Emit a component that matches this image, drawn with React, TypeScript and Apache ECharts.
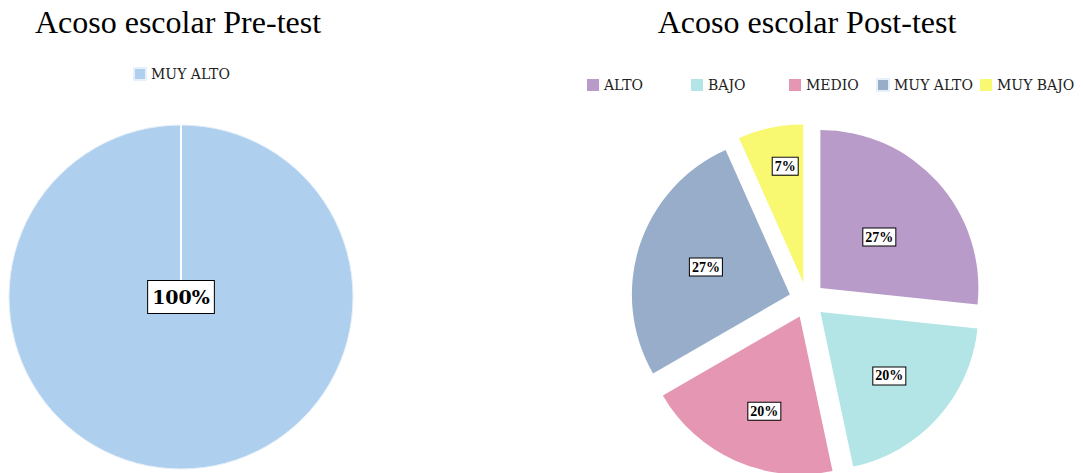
import React, { useEffect, useRef } from "react";
import * as echarts from "echarts";

const preCategories = ["MUY ALTO"];
const preValues = [15];
const postCategories = ["ALTO", "BAJO", "MEDIO", "MUY ALTO", "MUY BAJO"];
const postValues = [4, 3, 3, 4, 1];
const preColors = ["#aecfee"];
const postColors = ["#b89bc9", "#b3e5e6", "#e496b2", "#97adc9", "#f9f871"];
const titles = ["Acoso escolar Pre-test", "Acoso escolar Post-test"];

const W = 1083;
const H = 473;
const PRE_C = [181, 297];
const PRE_R = 172;
const POST_C = [807, 300];
const POST_R = 158;
const postLegendLeft = [587, 691, 789, 876, 980];
// small nudges of the inner labels, to match the reference placement
const postLabelNudge = [
  [-2, 4],
  [8, 9],
  [-2, 20],
  [-6, -2],
  [-1, -36],
];

export default function App() {
  const ref = useRef<HTMLDivElement>(null);
  useEffect(() => {
    document.body.style.margin = "0";
    const chart = echarts.init(ref.current!, undefined, { renderer: "svg" });
    const legendText = { fontFamily: "DejaVu Serif", fontSize: 14, color: "#222" };
    const labelStyle = {
      color: "#000",
      fontFamily: "Liberation Serif",
      fontWeight: "bold" as const,
      fontSize: 14,
      backgroundColor: "#fff",
      borderColor: "#000",
      borderWidth: 1,
      padding: [2, 2, 1, 2],
    };
    const titleStyle = { fontFamily: "Liberation Serif", fontSize: 32, fontWeight: "normal" as const, color: "#000" };
    chart.setOption({
      animation: false,
      backgroundColor: "#fff",
      title: [
        { text: titles[0], left: 178, top: 6, textAlign: "center", padding: 0, textStyle: titleStyle },
        { text: titles[1], left: 807, top: 6, textAlign: "center", padding: 0, textStyle: titleStyle },
      ],
      legend: [
        {
          data: [{ name: preCategories[0], itemStyle: { color: preColors[0] } }],
          left: 133,
          top: 67,
          padding: 0,
          icon: "rect",
          itemWidth: 12,
          itemHeight: 12,
          textStyle: legendText,
          selectedMode: false,
        },
        ...postCategories.map((c, i) => ({
          data: [{ name: c, itemStyle: { color: postColors[i] } }],
          left: postLegendLeft[i],
          top: 78,
          padding: 0,
          icon: "rect",
          itemWidth: 12,
          itemHeight: 12,
          textStyle: legendText,
          selectedMode: false,
        })),
      ],
      graphic: [
        {
          type: "line",
          shape: { x1: PRE_C[0], y1: PRE_C[1] - PRE_R, x2: PRE_C[0], y2: PRE_C[1] - 17 },
          style: { stroke: "#fff", lineWidth: 2 },
          z: 10,
        },
      ],
      series: [
        {
          type: "pie",
          center: PRE_C,
          radius: PRE_R,
          startAngle: 90,
          emphasis: { disabled: true },
          itemStyle: { borderColor: "#e6f0fa", borderWidth: 1 },
          label: {
            show: true,
            position: "center",
            formatter: (p: any) => Math.round(p.percent) + "%",
            ...labelStyle,
            fontFamily: "DejaVu Serif",
            fontSize: 19,
            padding: [7, 4, 6, 4],
          },
          labelLine: { show: false },
          data: preCategories.map((c, i) => ({
            name: c,
            value: preValues[i],
            itemStyle: { color: preColors[i] },
          })),
        },
        {
          type: "pie",
          center: POST_C,
          radius: POST_R,
          startAngle: 90,
          selectedMode: "multiple",
          selectedOffset: 18,
          emphasis: { disabled: true },
          label: {
            show: true,
            position: "inner",
            formatter: (p: any) => Math.round(p.percent) + "%",
            ...labelStyle,
          },
          labelLayout: (p: any) => {
            const n = postLabelNudge[p.dataIndex] || [0, 0];
            return { dx: n[0], dy: n[1] };
          },
          labelLine: { show: false },
          data: postCategories.map((c, i) => ({
            name: c,
            value: postValues[i],
            selected: true,
            itemStyle: { color: postColors[i] },
          })),
        },
      ],
    });
    return () => chart.dispose();
  }, []);
  return <div ref={ref} style={{ width: W, height: H }} />;
}
